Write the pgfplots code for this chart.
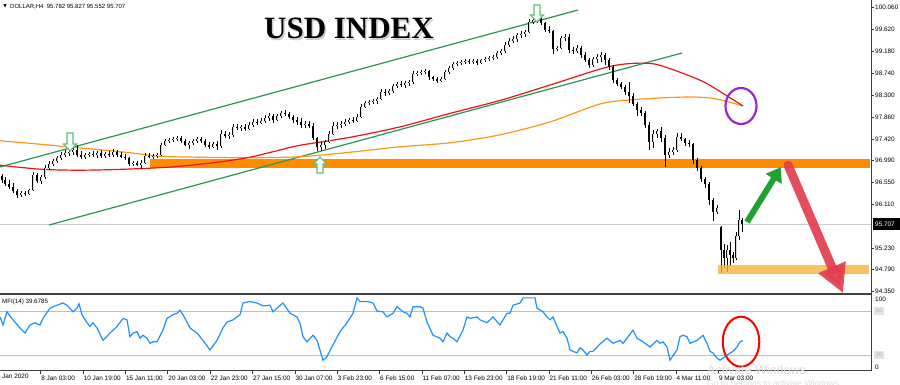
\documentclass[border=0pt]{standalone}
\usepackage{pgfplots}
\pgfplotsset{compat=1.18}
\usepackage{pgfplotstable}
\usetikzlibrary{arrows.meta}
\usepackage{fontspec}
\setmainfont{Liberation Sans}
\newfontfamily\titlefont{Liberation Serif}
\newfontfamily\dejavu{DejaVu Sans}

\definecolor{chgreen}{RGB}{40,150,80}
\definecolor{maorange}{RGB}{255,150,25}
\definecolor{mared}{RGB}{235,20,20}
\definecolor{bandorange}{RGB}{255,140,0}
\definecolor{lightband}{RGB}{248,180,60}
\definecolor{mfiblue}{RGB}{30,144,255}
\definecolor{hollowgreen}{RGB}{90,190,120}
\definecolor{arrgreen}{RGB}{34,160,50}
\definecolor{arrred}{RGB}{228,62,78}
\definecolor{purp}{RGB}{150,40,210}

\pgfplotstableread{
x o h l c
2 96.67 96.71 96.53 96.59
5 96.59 96.65 96.47 96.51
9 96.51 96.59 96.41 96.45
13 96.45 96.53 96.33 96.37
17 96.37 96.41 96.23 96.29
21 96.29 96.37 96.25 96.33
25 96.33 96.37 96.27 96.31
29 96.31 96.41 96.29 96.39
33 96.39 96.75 96.37 96.69
37 96.69 96.73 96.53 96.57
41 96.57 96.69 96.51 96.65
45 96.65 96.89 96.61 96.83
49 96.83 96.97 96.79 96.91
53 96.91 97.01 96.87 96.97
57 96.97 97.07 96.93 97.03
61 97.03 97.15 96.99 97.09
65 97.09 97.20 97.05 97.13
69 97.13 97.21 97.07 97.15
73 97.15 97.27 97.09 97.20
77 97.20 97.29 97.05 97.09
81 97.09 97.17 97.01 97.05
85 97.05 97.13 97.01 97.09
89 97.09 97.15 97.05 97.11
93 97.11 97.17 97.05 97.09
97 97.09 97.17 97.03 97.13
101 97.13 97.20 97.03 97.07
105 97.07 97.15 97.03 97.11
109 97.11 97.17 97.05 97.09
113 97.09 97.21 97.05 97.15
117 97.15 97.20 97.05 97.09
121 97.09 97.15 97.03 97.05
125 97.05 97.11 96.99 97.03
129 97.03 97.05 96.87 96.91
133 96.91 96.97 96.87 96.93
137 96.93 96.97 96.87 96.89
141 96.89 96.99 96.81 96.93
145 96.93 97.13 96.91 97.07
149 97.07 97.13 97.03 97.05
153 97.05 97.11 97.01 97.07
157 97.07 97.13 97.03 97.09
161 97.09 97.34 97.07 97.30
165 97.30 97.42 97.28 97.38
169 97.38 97.43 97.34 97.40
173 97.40 97.45 97.36 97.42
177 97.42 97.48 97.38 97.44
181 97.44 97.48 97.34 97.38
185 97.38 97.42 97.27 97.30
189 97.30 97.38 97.22 97.34
193 97.34 97.42 97.30 97.38
197 97.38 97.46 97.34 97.42
201 97.42 97.46 97.34 97.38
205 97.38 97.42 97.26 97.30
209 97.30 97.36 97.22 97.26
213 97.26 97.36 97.24 97.32
217 97.32 97.38 97.20 97.28
221 97.28 97.60 97.24 97.52
225 97.52 97.58 97.44 97.48
229 97.48 97.56 97.42 97.50
233 97.50 97.72 97.46 97.66
237 97.66 97.72 97.60 97.64
241 97.64 97.70 97.58 97.66
245 97.66 97.72 97.58 97.62
249 97.62 97.76 97.60 97.70
253 97.70 97.82 97.66 97.76
257 97.76 97.82 97.70 97.74
261 97.74 97.84 97.72 97.78
265 97.78 97.90 97.74 97.84
269 97.84 97.94 97.78 97.88
273 97.88 97.92 97.74 97.80
277 97.80 97.92 97.78 97.88
281 97.88 97.98 97.84 97.94
285 97.94 98.00 97.88 97.92
289 97.92 97.96 97.82 97.86
293 97.86 97.90 97.74 97.80
297 97.80 97.86 97.70 97.76
301 97.76 97.84 97.64 97.70
305 97.70 97.78 97.64 97.72
309 97.72 97.78 97.64 97.68
313 97.68 97.74 97.40 97.44
317 97.44 97.46 97.18 97.26
321 97.26 97.36 97.18 97.30
325 97.30 97.40 97.22 97.36
329 97.36 97.58 97.34 97.52
333 97.52 97.76 97.50 97.68
337 97.68 97.76 97.62 97.70
341 97.70 97.78 97.64 97.72
345 97.72 97.82 97.68 97.76
349 97.76 97.84 97.72 97.80
353 97.80 97.86 97.74 97.78
357 97.78 97.92 97.76 97.86
361 97.86 98.12 97.84 98.06
365 98.06 98.18 98.04 98.14
369 98.14 98.20 98.10 98.16
373 98.16 98.22 98.12 98.18
377 98.18 98.26 98.12 98.22
381 98.22 98.42 98.20 98.36
385 98.36 98.42 98.28 98.34
389 98.34 98.42 98.30 98.38
393 98.38 98.52 98.34 98.48
397 98.48 98.56 98.44 98.52
401 98.52 98.58 98.46 98.50
405 98.50 98.58 98.44 98.54
409 98.54 98.60 98.48 98.56
413 98.56 98.78 98.52 98.72
417 98.72 98.78 98.68 98.74
421 98.74 98.80 98.70 98.76
425 98.76 98.82 98.72 98.78
429 98.78 98.80 98.60 98.66
433 98.66 98.68 98.58 98.62
437 98.62 98.66 98.54 98.58
441 98.58 98.66 98.56 98.62
445 98.62 98.80 98.60 98.76
449 98.76 98.88 98.72 98.84
453 98.84 98.96 98.80 98.92
457 98.92 98.98 98.88 98.94
461 98.94 99.00 98.90 98.96
465 98.96 99.02 98.92 98.98
469 98.98 99.02 98.92 98.96
473 98.96 99.02 98.92 98.98
477 98.98 99.02 98.90 98.94
481 98.94 99.02 98.92 99.00
485 99.00 99.06 98.96 99.02
489 99.02 99.08 98.98 99.04
493 99.04 99.10 99.00 99.06
497 99.06 99.18 99.02 99.14
501 99.14 99.22 99.10 99.18
505 99.18 99.36 99.14 99.30
509 99.30 99.44 99.26 99.38
513 99.38 99.48 99.34 99.42
517 99.42 99.54 99.36 99.50
521 99.50 99.58 99.44 99.52
525 99.52 99.60 99.46 99.56
529 99.56 99.83 99.54 99.77
533 99.77 99.87 99.73 99.81
537 99.81 99.89 99.75 99.83
541 99.83 99.87 99.70 99.74
545 99.74 99.76 99.56 99.60
549 99.60 99.68 99.54 99.58
553 99.58 99.60 99.12 99.22
557 99.22 99.28 99.18 99.24
561 99.24 99.48 99.22 99.44
565 99.44 99.52 99.38 99.46
569 99.46 99.52 99.14 99.20
573 99.20 99.26 99.12 99.18
577 99.18 99.30 99.14 99.24
581 99.24 99.28 99.04 99.10
585 99.10 99.16 98.96 99.00
589 99.00 99.04 98.84 98.90
593 98.90 99.06 98.86 99.02
597 99.02 99.12 98.94 99.06
601 99.06 99.16 98.96 99.10
605 99.10 99.14 98.90 99.00
609 99.00 99.04 98.80 98.86
613 98.86 98.90 98.54 98.60
617 98.60 98.64 98.48 98.52
621 98.52 98.56 98.42 98.46
625 98.46 98.50 98.30 98.36
629 98.36 98.56 98.14 98.28
633 98.28 98.34 98.08 98.12
637 98.12 98.16 97.88 98.00
641 98.00 98.06 97.88 97.94
645 97.94 97.98 97.64 97.70
649 97.70 97.76 97.20 97.36
653 97.36 97.60 97.24 97.52
657 97.52 97.62 97.44 97.58
661 97.58 97.66 97.36 97.44
665 97.44 97.50 96.85 97.09
669 97.09 97.24 97.03 97.15
673 97.15 97.26 97.09 97.20
677 97.20 97.54 97.15 97.46
681 97.46 97.54 97.38 97.42
685 97.42 97.44 97.28 97.34
689 97.34 97.40 97.26 97.32
693 97.32 97.34 96.91 96.99
697 96.99 97.03 96.77 96.83
701 96.83 96.87 96.55 96.61
705 96.61 96.65 96.43 96.51
709 96.51 96.55 96.09 96.19
713 96.19 96.23 95.77 95.95
717 95.95 96.09 95.91 96.03
721 95.65 95.67 94.72 95.19
724 95.19 95.31 94.82 95.03
727 95.03 95.29 94.75 95.19
730 95.19 95.35 94.87 95.09
733 95.09 95.15 94.93 95.03
736 95.03 95.55 94.99 95.47
739 95.47 95.99 95.39 95.78
742 95.782 95.827 95.552 95.707
}\candles

\pgfplotstableread{
x mfi
0 72
3 61
7 79
13 68
20 57
25 50
30 61
35 64
40 61
43 70
50 84
57 88
63 91
67 88
73 79
77 84
79 90
82 75
87 64
90 59
93 64
97 57
103 40
110 50
117 59
123 70
127 68
130 45
133 50
137 52
140 43
143 47
147 43
150 36
153 38
157 38
163 54
167 70
173 75
177 77
180 81
183 75
190 57
197 50
203 40
210 27
217 40
223 57
227 65
233 68
240 75
243 91
250 93
257 91
263 87
270 88
273 79
277 84
283 91
290 77
297 72
300 63
303 45
307 38
313 47
317 40
323 13
327 18
333 34
340 52
347 64
353 77
357 98
360 93
367 93
373 91
377 80
383 79
387 72
393 77
397 86
403 79
407 77
410 72
413 86
420 86
423 84
427 65
433 47
440 43
443 38
447 50
450 45
453 43
457 38
463 54
467 72
470 70
477 72
480 68
487 64
493 72
500 61
507 77
510 77
513 88
520 91
523 98
530 98
535 98
537 84
543 79
547 72
550 68
553 72
557 59
560 50
563 52
567 43
570 27
573 25
577 23
580 30
583 27
587 20
590 25
593 25
600 35
607 43
613 36
620 40
623 36
627 43
633 54
637 43
643 38
650 31
657 40
660 36
663 38
667 31
670 13
677 27
680 45
683 47
687 45
690 36
697 40
703 47
707 36
710 25
713 23
717 16
720 13
727 20
733 25
737 31
740 38
743 39.68
}\mfidata

\begin{document}
\begin{tikzpicture}[x=1pt,y=1pt]
\path[use as bounding box] (0,0) rectangle (900,384);

% ---------------- main price panel ----------------
\begin{axis}[
  at={(0pt,90.5pt)}, anchor=south west, scale only axis,
  width=871pt, height=293.5pt,
  xmin=0, xmax=871, ymin=94.314, ymax=100.207,
  axis line style={draw=none},
  xtick=\empty,
  ytick={94.35,94.79,95.23,96.11,96.55,96.99,97.42,97.86,98.30,98.74,99.18,99.62,100.06},
  ytick pos=right, yticklabel pos=right,
  tick align=outside, major tick length=2.5pt,
  tick style={black!80, line width=0.6pt},
  scaled y ticks=false,
  /pgf/number format/assume math mode=true,
  yticklabel style={font=\fontsize{6.4}{6.4}\selectfont, anchor=west, inner sep=1pt, xshift=0.5pt,
    /pgf/number format/.cd, fixed, fixed zerofill, precision=3, 1000 sep={}},
  clip=true,
]
% support band (behind)
\fill[bandorange] (axis cs:150,96.84) rectangle (axis cs:870,97.01);
% current price line
\addplot[gray!40, line width=0.6pt] coordinates {(0,95.707) (871,95.707)};
% channel
\addplot[chgreen, line width=1.2pt] coordinates {(0,96.854) (578,100.006)};
\addplot[chgreen, line width=1.2pt] coordinates {(49,95.689) (682,99.143)};
% moving averages
\addplot[maorange, line width=1.2pt, smooth] coordinates {
(0,97.38) (30,97.33) (67,97.26) (100,97.20) (130,97.14) (160,97.07) (200,97.05) (250,97.04)
(300,97.06) (350,97.15) (400,97.26) (450,97.34) (500,97.50) (550,97.76) (600,98.12) (630,98.20)
(660,98.24) (690,98.26) (710,98.24) (725,98.18) (743,98.08)};
\addplot[mared, line width=1.2pt, smooth] coordinates {
(0,96.89) (40,96.81) (75,96.79) (110,96.80) (150,96.83) (175,96.86) (200,96.91) (225,96.97)
(250,97.05) (275,97.17) (300,97.29) (350,97.45) (400,97.66) (450,97.93) (500,98.19) (550,98.50)
(600,98.82) (620,98.91) (640,98.94) (655,98.92) (670,98.83) (690,98.68) (705,98.55) (720,98.37) (743,98.08)};
% candles: wicks
\addplot[black, line width=0.8pt, -, quiver={u=0, v=\thisrow{h}-\thisrow{l}}] table[x=x, y=l] {\candles};
% bodies (all black)
\addplot[black, line width=2.6pt, -, quiver={u=0, v=\thisrow{c}-\thisrow{o}}] table[x=x, y=o] {\candles};
% bull bodies: hollow look
\addplot[gray!30, line width=1.0pt, -, quiver={u=0, v={max(\thisrow{c}-\thisrow{o},0)}}] table[x=x, y=o] {\candles};
% target band (overlay)
\fill[lightband, opacity=0.8] (axis cs:718,94.705) rectangle (axis cs:869,94.886);
\end{axis}

% ---------------- MFI panel ----------------
\begin{axis}[
  at={(0pt,13.3pt)}, anchor=south west, scale only axis,
  width=871pt, height=75.7pt,
  xmin=0, xmax=871, ymin=-1.36, ymax=101.9,
  axis line style={draw=none},
  ytick=\empty,
  xtick={40.7,83.05,125.4,167.75,210.1,252.45,294.8,337.15,379.5,421.85,464.2,506.55,548.9,591.25,633.6,675.95,718.3},
  xticklabels={8 Jan 03:00,10 Jan 19:00,15 Jan 11:00,20 Jan 03:00,22 Jan 23:00,27 Jan 15:00,30 Jan 07:00,3 Feb 23:00,6 Feb 15:00,11 Feb 07:00,13 Feb 23:00,18 Feb 19:00,21 Feb 11:00,26 Feb 03:00,28 Feb 19:00,4 Mar 11:00,9 Mar 03:00},
  xtick pos=left,
  tick align=outside, major tick length=3pt,
  tick style={black!80, line width=0.6pt},
  xticklabel style={font=\fontsize{6.4}{6.4}\selectfont, anchor=north west, inner sep=0.5pt, yshift=-1.5pt},
  clip=true,
]
\addplot[gray!50, line width=0.7pt] coordinates {(0,80) (871,80)};
\addplot[gray!50, line width=0.7pt] coordinates {(0,20) (871,20)};
\addplot[mfiblue, line width=1.2pt] table[x=x, y=mfi] {\mfidata};
\end{axis}

% ---------------- annotations in pixel coordinates ----------------
\begin{scope}[shift={(0pt,384pt)}, x=1pt, y=-1pt]
% borders
\draw[black!75, line width=1pt] (871,0) -- (871,370.7);
\draw[black!75, line width=2.4pt] (0,294) -- (871,294);
\draw[black!75, line width=1pt] (0,370.5) -- (871,370.5);
% header
\node[font=\dejavu\fontsize{4.5}{4.5}\selectfont, inner sep=0] at (5,6.3) {▼};
\node[anchor=west, inner sep=0, font=\fontsize{6}{6}\selectfont] at (10,6.3) {DOLLAR,H4\ \ 95.782 95.827 95.552 95.707};
% title with shadow
\node[font=\titlefont\bfseries\fontsize{31}{31}\selectfont, text=black!40, opacity=0.5] at (350.5,30) {USD INDEX};
\node[font=\titlefont\bfseries\fontsize{31}{31}\selectfont, text=black] at (349,28) {USD INDEX};
% hollow green markers
\draw[hollowgreen, line width=1.1pt, fill=white] (67,133) -- (73,133) -- (73,144) -- (76.5,144) -- (70,151) -- (63.5,144) -- (67,144) -- cycle;
\draw[hollowgreen, line width=1.1pt, fill=white] (320,157) -- (326.5,164) -- (323,164) -- (323,173) -- (317,173) -- (317,164) -- (313.5,164) -- cycle;
\draw[hollowgreen, line width=1.1pt, fill=white] (534,5) -- (540,5) -- (540,15) -- (543.5,15) -- (537,22) -- (530.5,15) -- (534,15) -- cycle;
% purple ellipse
\draw[purp, line width=2.2pt] (741,106) ellipse [x radius=15.5pt, y radius=18pt];
% red ellipse in MFI
\draw[red, line width=2pt] (741,341.7) ellipse [x radius=18.3pt, y radius=25pt];
% green arrow
\draw[arrgreen, line width=6pt, -{Triangle[length=14pt, width=18pt]}] (747,222) -- (781,167);
% red arrow
\draw[arrred, opacity=0.92, line width=9pt, line cap=round, -{Triangle[length=28pt, width=28pt]}] (788,165) -- (843,293);
% right scale labels
\fill[black] (872.5,218) rectangle (900,230);
\node[anchor=west, inner sep=0, text=white, font=\fontsize{6.4}{6.4}\selectfont] at (875,224) {95.707};
\node[anchor=west, inner sep=0, font=\fontsize{6.4}{6.4}\selectfont] at (875,299) {100};
\node[anchor=west, inner sep=0, font=\fontsize{6.4}{6.4}\selectfont] at (875,367) {0};
\fill[gray!22] (874,307) rectangle (884,315);
\node[inner sep=0, text=gray!60, font=\fontsize{5}{5}\selectfont] at (879,311) {80};
\fill[gray!22] (874,351) rectangle (884,359);
\node[inner sep=0, text=gray!60, font=\fontsize{5}{5}\selectfont] at (879,355) {20};
% labels
\node[anchor=west, inner sep=0, font=\fontsize{6.2}{6.2}\selectfont] at (2,301.5) {MFI(14) 39.6785};
\node[anchor=base west, inner sep=0, font=\fontsize{6.4}{6.4}\selectfont] at (-3.3,378.5) {3 Jan 2020};
% watermark
\node[anchor=west, inner sep=0, text=gray!28, font=\fontsize{12.5}{12.5}\selectfont] at (707,370) {Activate Windows};
\node[anchor=west, inner sep=0, text=gray!28, font=\fontsize{8.5}{8.5}\selectfont] at (707,384) {Go to Settings to activate Windows.};
\end{scope}
\end{tikzpicture}
\end{document}
